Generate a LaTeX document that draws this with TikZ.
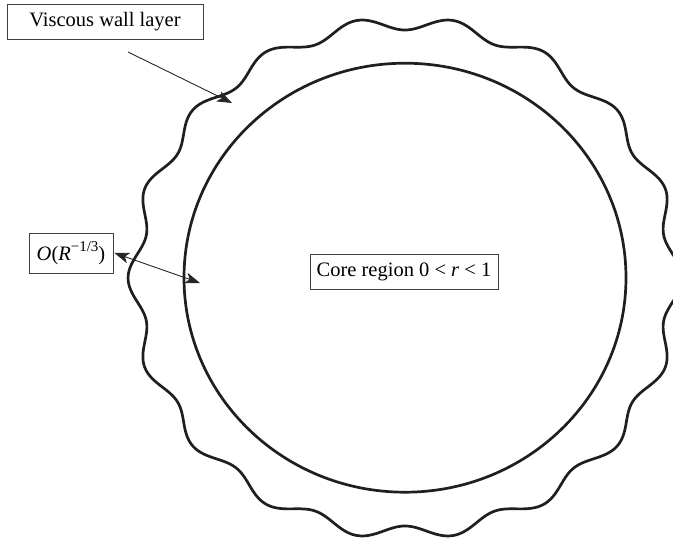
\documentclass[tikz,border=0pt]{standalone}
\usepackage{fontspec}
\setmainfont{Liberation Serif}
\usetikzlibrary{arrows.meta}
\begin{document}
\begin{tikzpicture}[x=1pt,y=-1pt,
  wall/.style={line width=2.7pt, draw=black!88, line join=round},
  labelbox/.style={draw=black!75, line width=0.9pt, fill=white, inner sep=0pt,
    font=\fontsize{20.5}{24}\selectfont},
  tipk/.tip={Stealth[length=15pt,width=11pt,inset=4pt]},
  pointer/.style={line width=0.9pt, draw=black!85}]
\useasboundingbox (0,0) rectangle (673,543);
% wavy outer wall
\draw[wall] plot[domain=0:360,samples=721]
  ({405+1.059*(254.75+6.75*cos(18*\x))*cos(\x)},
   {278-(254.75+6.75*cos(18*\x))*sin(\x)}) -- cycle;
% inner circle (edge of core region)
\draw[wall] (405,277.7) ellipse [x radius=221, y radius=214.5];
% labels
\node[labelbox, minimum width=196pt, minimum height=35pt] (vbox) at (105,21.5) {Viscous wall layer};
\node[labelbox, minimum width=84pt, minimum height=40pt] (obox) at (71,253) {\textit{O}(\textit{R}\raisebox{0.42em}{\fontsize{15}{15}\selectfont\char"2212 1/3})};
\node[labelbox, minimum width=188pt, minimum height=35pt] (cbox) at (404,271.5) {Core region 0 < \textit{r} < 1};
% pointers
\coordinate (vs) at (128,52);
\coordinate (ve) at (232,103);
\draw[pointer, -tipk] (vs) -- (ve);
\coordinate (oe) at (200,283);
\draw[pointer, tipk-tipk] ([xshift=1pt]obox.east) -- (oe);
\end{tikzpicture}
\end{document}
